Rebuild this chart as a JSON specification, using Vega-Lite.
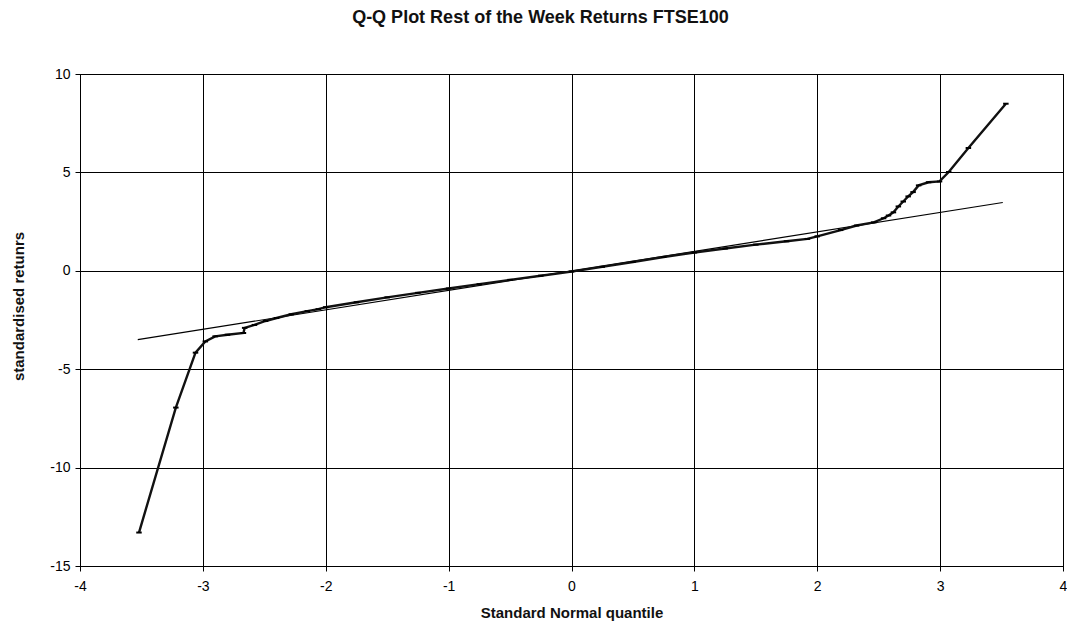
{
  "$schema": "https://vega.github.io/schema/vega-lite/v6.json",
  "width": 983,
  "height": 492,
  "autosize": {"type": "none"},
  "padding": {"left": 80, "top": 74, "right": 4, "bottom": 61},
  "background": "white",
  "config": {
    "font": "Liberation Sans",
    "view": {"stroke": "#000", "strokeWidth": 1}
  },
  "title": {
    "text": "Q-Q Plot Rest of the Week Returns FTSE100",
    "font": "Liberation Sans",
    "fontSize": 18,
    "fontWeight": "bold",
    "color": "#111",
    "anchor": "middle",
    "dx": -31,
    "offset": 40
  },
  "datasets": {
    "qq": [
      {"q": -3.52, "r": -13.3},
      {"q": -3.22, "r": -6.95},
      {"q": -3.06, "r": -4.16},
      {"q": -2.98, "r": -3.59},
      {"q": -2.90, "r": -3.33},
      {"q": -2.80, "r": -3.25},
      {"q": -2.67, "r": -3.16},
      {"q": -2.66, "r": -2.90},
      {"q": -2.58, "r": -2.75},
      {"q": -2.49, "r": -2.55},
      {"q": -2.40, "r": -2.40},
      {"q": -2.28, "r": -2.21},
      {"q": -2.15, "r": -2.05},
      {"q": -2.06, "r": -1.95},
      {"q": -2.00, "r": -1.85},
      {"q": -1.75, "r": -1.60},
      {"q": -1.50, "r": -1.35},
      {"q": -1.25, "r": -1.12},
      {"q": -1.00, "r": -0.90},
      {"q": -0.75, "r": -0.68},
      {"q": -0.50, "r": -0.46},
      {"q": -0.25, "r": -0.25},
      {"q": 0.00, "r": -0.04},
      {"q": 0.25, "r": 0.20},
      {"q": 0.50, "r": 0.45},
      {"q": 0.75, "r": 0.70},
      {"q": 1.00, "r": 0.93},
      {"q": 1.25, "r": 1.13},
      {"q": 1.50, "r": 1.33},
      {"q": 1.75, "r": 1.50},
      {"q": 1.92, "r": 1.62},
      {"q": 2.00, "r": 1.75},
      {"q": 2.19, "r": 2.07},
      {"q": 2.32, "r": 2.30},
      {"q": 2.46, "r": 2.46},
      {"q": 2.54, "r": 2.67},
      {"q": 2.58, "r": 2.81},
      {"q": 2.62, "r": 2.97},
      {"q": 2.66, "r": 3.27},
      {"q": 2.70, "r": 3.52},
      {"q": 2.74, "r": 3.78},
      {"q": 2.78, "r": 4.00},
      {"q": 2.825, "r": 4.34},
      {"q": 2.906, "r": 4.50},
      {"q": 2.995, "r": 4.54},
      {"q": 3.07, "r": 5.02},
      {"q": 3.23, "r": 6.24},
      {"q": 3.535, "r": 8.49}
    ],
    "ref": [
      {"q": -3.53, "r": -3.50},
      {"q": 3.51, "r": 3.47}
    ]
  },
  "layer": [
    {
      "data": {"name": "ref"},
      "mark": {"type": "line", "color": "#000", "strokeWidth": 1.2},
      "encoding": {
        "x": {
          "field": "q", "type": "quantitative",
          "scale": {"domain": [-4, 4], "nice": false, "zero": false},
          "axis": {
            "values": [-4, -3, -2, -1, 0, 1, 2, 3, 4],
            "labelExpr": "'' + datum.value",
            "title": "Standard Normal quantile",
            "titleFont": "Liberation Sans",
            "titleFontSize": 15,
            "titleFontWeight": "bold",
            "titleColor": "#111",
            "titlePadding": 12,
            "labelFont": "Liberation Sans",
            "labelFontSize": 14,
            "labelColor": "#000",
            "labelPadding": 8,
            "labelFlush": false,
            "labelOverlap": false,
            "tickSize": 5,
            "tickColor": "#000",
            "domainColor": "#000",
            "grid": true,
            "gridColor": "#000",
            "gridOpacity": 1,
            "gridWidth": 1
          }
        },
        "y": {
          "field": "r", "type": "quantitative",
          "scale": {"domain": [-15, 10], "nice": false, "zero": false},
          "axis": {
            "values": [-15, -10, -5, 0, 5, 10],
            "labelExpr": "'' + datum.value",
            "title": "standardised retunrs",
            "titleFont": "Liberation Sans",
            "titleFontSize": 15,
            "titleFontWeight": "bold",
            "titleColor": "#111",
            "titleX": -62,
            "titleY": 232,
            "titleAngle": -90,
            "titleAlign": "center",
            "titleBaseline": "middle",
            "labelFont": "Liberation Sans",
            "labelFontSize": 14,
            "labelColor": "#000",
            "labelPadding": 5,
            "labelFlush": false,
            "labelOverlap": false,
            "tickSize": 5,
            "tickColor": "#000",
            "domainColor": "#000",
            "grid": true,
            "gridColor": "#000",
            "gridOpacity": 1,
            "gridWidth": 1
          }
        }
      }
    },
    {
      "data": {"name": "qq"},
      "mark": {"type": "line", "color": "#111", "strokeWidth": 2.4},
      "encoding": {
        "x": {"field": "q", "type": "quantitative"},
        "y": {"field": "r", "type": "quantitative"}
      }
    },
    {
      "data": {"name": "qq"},
      "mark": {"type": "point", "shape": "M-1,0L1,0", "size": 30, "color": "#000", "strokeWidth": 2, "filled": false, "opacity": 1},
      "encoding": {
        "x": {"field": "q", "type": "quantitative"},
        "y": {"field": "r", "type": "quantitative"}
      }
    }
  ]
}
